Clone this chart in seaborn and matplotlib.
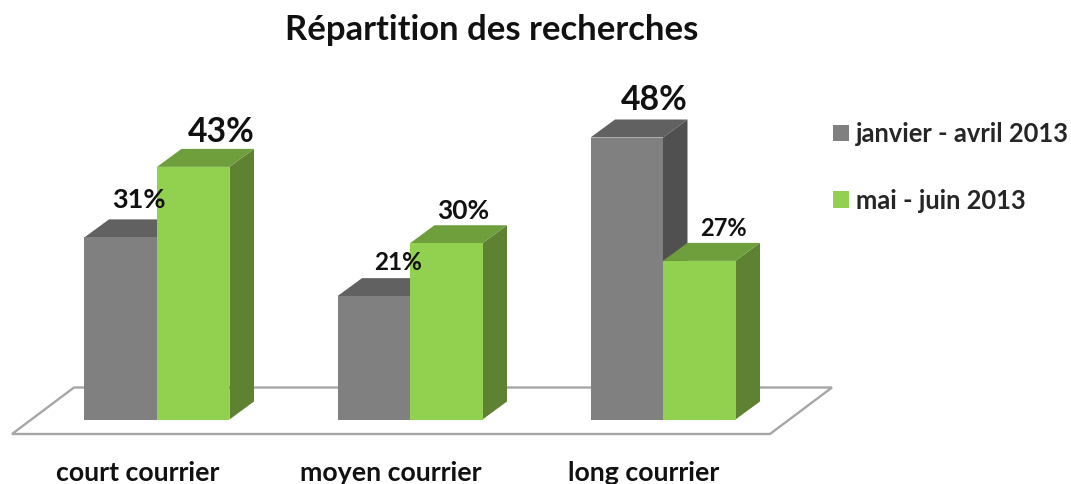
import pandas as pd
import seaborn as sns
import matplotlib.pyplot as plt
from matplotlib.patches import Polygon

categories = ["court courrier", "moyen courrier", "long courrier"]
periods = ["janvier - avril 2013", "mai - juin 2013"]
janvier_avril = [31, 21, 48]
mai_juin = [43, 30, 27]

front_colors = ["#808080", "#92D050"]
top_colors = ["#616161", "#6F9E3D"]
side_colors = ["#505050", "#5E8231"]

# value label style, one row per period
label_sizes = [[19.5, 17.5, 24.3], [24.3, 19, 17]]
label_dx = [[18.5, 24.5, 27.5], [28, 17, 24]]
label_dy = [[37, 34, 38], [35, 32, 32]]

sns.set_style("white")
plt.rcParams['font.family'] = ['Lato', 'DejaVu Sans']

df = pd.DataFrame({
    "categorie": categories * 2,
    "periode": [periods[0]] * 3 + [periods[1]] * 3,
    "part": janvier_avril + mai_juin,
})

# axes scale : pixels per category and pixels per percent
x_px = 253
y_px = 5.875
base_px = 419.5
ax_bottom_px = 450
depth_x = 24.5 / x_px
depth_y = 18 / y_px

fig = plt.figure(figsize=(10.71, 4.84), dpi=100)
ax = fig.add_axes([0, (484 - ax_bottom_px) / 484, 1, ax_bottom_px / 484])

sns.barplot(data=df, x="categorie", y="part", hue="periode",
            palette=front_colors, width=145 / x_px, gap=0,
            saturation=1, legend=False, ax=ax)

ax.set_xlim(-157 / x_px, (1071 - 157) / x_px)
ax.set_ylim((base_px - ax_bottom_px) / y_px, base_px / y_px)
sns.despine(ax=ax, left=True, bottom=True)
ax.set_xlabel("")
ax.set_ylabel("")
ax.set_yticks([])

ax.set_xticks([i - 19.5 / x_px for i in range(3)])
ax.set_xticklabels(categories, fontsize=19.3, fontweight="bold", color="#111111")
ax.tick_params(axis="x", length=0, pad=8)

# floor of the 3d chart
floor_x0 = -145 / x_px
floor_x1 = 613 / x_px
floor_y0 = -14.5 / y_px
floor_dx = 62 / x_px
floor_dy = 46.5 / y_px
ax.add_patch(Polygon([(floor_x0, floor_y0), (floor_x1, floor_y0),
                      (floor_x1 + floor_dx, floor_y0 + floor_dy),
                      (floor_x0 + floor_dx, floor_y0 + floor_dy)],
                     closed=True, fc="white", ec="#A6A6A6", lw=1.7, zorder=1))

# depth faces, taken from the seaborn bars
for s, container in enumerate(ax.containers):
    for bar in container:
        x0 = bar.get_x()
        x1 = x0 + bar.get_width()
        h = bar.get_height()
        bar.set_zorder(3 + 2 * s)
        bar.set_linewidth(0)
        ax.add_patch(Polygon([(x1, 0), (x1 + depth_x, depth_y),
                              (x1 + depth_x, h + depth_y), (x1, h)],
                             closed=True, fc=side_colors[s], lw=0, zorder=2 + 2 * s))
        ax.add_patch(Polygon([(x0, h), (x0 + depth_x, h + depth_y),
                              (x1 + depth_x, h + depth_y), (x1, h)],
                             closed=True, fc=top_colors[s], lw=0, zorder=2 + 2 * s))

for s, container in enumerate(ax.containers):
    for c, bar in enumerate(container):
        h = bar.get_height()
        ax.annotate(f"{h:.0f}%",
                    (bar.get_x() + bar.get_width() / 2, h),
                    xytext=(label_dx[s][c], label_dy[s][c]),
                    textcoords="offset pixels", ha="center", va="center",
                    fontsize=label_sizes[s][c], fontweight="bold",
                    color="#111111", zorder=8, annotation_clip=False)

handles = [plt.Rectangle((0, 0), 1, 1, fc=col, lw=0) for col in front_colors]
ax.legend(handles, periods, loc="upper left", bbox_to_anchor=(832.5 / 1071, 1 - 122 / ax_bottom_px),
          frameon=False, handlelength=0.63, handleheight=0.63,
          handletextpad=0.3, labelspacing=1.67, borderpad=0, borderaxespad=0,
          prop={"weight": "bold", "size": 18.4})

fig.text(492 / 1071, 1 - 30 / 484, "Répartition des recherches", ha="center", va="center",
         fontsize=24.9, fontweight="bold", color="#111111")

fig.savefig("out.png", dpi=100)
